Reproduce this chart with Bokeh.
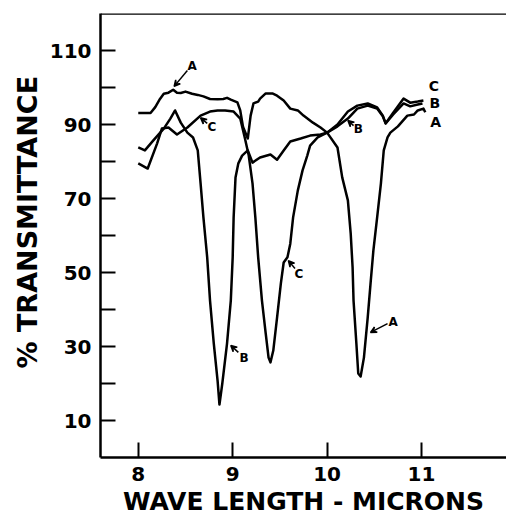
from bokeh.plotting import figure
from bokeh.models import Range1d, FixedTicker, Span, Arrow, VeeHead, ColumnDataSource, Title
from bokeh.core.properties import value
from bokeh.embed import file_html
from bokeh.resources import INLINE

# ---- data ----
A_x = [8.00, 8.13, 8.18, 8.23, 8.27, 8.32, 8.37, 8.41, 8.45, 8.50, 8.57, 8.63, 8.69, 8.76, 8.84,
       8.90, 8.94, 8.98, 9.05, 9.08, 9.11, 9.16, 9.19, 9.22, 9.27, 9.29, 9.35, 9.42, 9.47, 9.54,
       9.61, 9.69, 9.75, 9.85, 9.93, 10.00, 10.11, 10.16, 10.22, 10.25, 10.27, 10.28, 10.31, 10.33, 10.355,
       10.39, 10.43, 10.46, 10.49, 10.53, 10.57, 10.60, 10.64, 10.67, 10.75, 10.85, 10.92, 10.96, 11.02, 11.04]
A_y = [93.1, 93.1, 94.7, 96.9, 98.3, 98.6, 99.4, 98.6, 98.5, 98.9, 98.3, 98.0, 97.6, 96.9, 96.8,
       96.9, 97.2, 96.7, 96.0, 93.8, 89.3, 86.2, 92.4, 95.7, 96.2, 97.0, 98.4, 98.4, 97.8, 96.5,
       94.3, 93.8, 92.4, 90.5, 89.2, 87.8, 83.8, 75.7, 69.5, 60.5, 51.4, 42.4, 30.8, 22.7, 21.9,
       27.0, 37.8, 47.0, 55.9, 64.9, 74.1, 83.0, 86.5, 87.8, 89.5, 92.4, 92.7, 93.8, 94.3, 93.3]

B_x = [8.00, 8.07, 8.16, 8.27, 8.34, 8.39, 8.45, 8.52, 8.58, 8.63, 8.66, 8.69, 8.73, 8.76, 8.80,
       8.84, 8.86, 8.89, 8.94, 8.98, 9.00, 9.01, 9.03, 9.06, 9.10, 9.16, 9.21, 9.29, 9.40, 9.47,
       9.54, 9.61, 9.72, 9.82, 9.93, 10.00, 10.11, 10.22, 10.32, 10.43, 10.53, 10.59, 10.62, 10.70, 10.81,
       10.88, 10.96, 11.01]
B_y = [83.8, 83.0, 85.7, 88.9, 91.6, 93.8, 90.5, 87.8, 86.5, 83.0, 74.1, 64.9, 54.1, 42.4, 30.8,
       20.8, 14.3, 20.0, 30.8, 42.4, 54.1, 64.9, 75.7, 79.5, 81.6, 83.0, 79.7, 81.1, 81.9, 80.5,
       83.0, 85.4, 86.2, 87.0, 87.3, 87.8, 89.5, 91.6, 94.3, 95.1, 94.3, 92.2, 90.3, 92.7, 95.7,
       94.9, 95.4, 95.7]

C_x = [8.00, 8.10, 8.20, 8.25, 8.32, 8.41, 8.52, 8.66, 8.76, 8.84, 8.92, 9.01, 9.08, 9.13, 9.17,
       9.21, 9.24, 9.27, 9.31, 9.35, 9.38, 9.40, 9.43, 9.47, 9.51, 9.54, 9.58, 9.61, 9.64, 9.69,
       9.74, 9.79, 9.82, 9.90, 10.00, 10.11, 10.22, 10.32, 10.43, 10.53, 10.59, 10.62, 10.70, 10.81, 10.88,
       10.96, 11.02]
C_y = [79.5, 78.1, 84.9, 88.9, 89.2, 87.3, 89.2, 92.4, 93.5, 93.8, 93.8, 93.5, 91.6, 86.2, 81.6,
       74.1, 64.9, 54.1, 42.4, 33.5, 27.0, 25.7, 28.9, 37.8, 47.0, 52.7, 54.1, 57.8, 64.9, 72.2,
       77.6, 81.6, 84.3, 86.5, 87.8, 90.0, 93.5, 95.1, 95.7, 94.6, 92.4, 90.3, 93.2, 97.0, 95.9,
       96.2, 96.5]

x_ticks = [8, 9, 10, 11]
y_ticks = [10, 30, 50, 70, 90, 110]
y_minor = [20, 40, 60, 80, 100]

x_title = "WAVE LENGTH - MICRONS"
y_title = "% TRANSMITTANCE"

ann_text = ["A", "C", "B", "C", "A", "B"]
ann_x = [8.57, 8.78, 9.12, 9.70, 10.70, 10.33]
ann_y = [105.9, 89.2, 26.8, 49.5, 36.5, 88.9]
arr_x0 = [8.52, 8.73, 9.06, 9.66, 10.64, 10.28]
arr_y0 = [104.6, 90.3, 28.4, 51.1, 36.2, 89.7]
arr_x1 = [8.38, 8.66, 8.98, 9.59, 10.46, 10.22]
arr_y1 = [100.3, 91.8, 30.3, 53.2, 33.8, 91.1]

end_text = ["C", "B", "A"]
end_x = [11.13, 11.14, 11.15]
end_y = [100.3, 95.7, 90.8]

FONT = "DejaVu Sans"

p = figure(width=506, height=522, output_backend="svg", toolbar_location=None,
           x_range=Range1d(7.6, 11.9), y_range=Range1d(0, 120),
           min_border_left=100, min_border_right=0, min_border_top=13, min_border_bottom=65)
p.grid.grid_line_color = None
p.outline_line_color = None
p.background_fill_color = "white"
p.border_fill_color = "white"

p.xaxis.ticker = FixedTicker(ticks=x_ticks)
p.yaxis.ticker = FixedTicker(ticks=y_ticks, minor_ticks=y_minor)
p.xaxis.axis_label = x_title

for ax in (p.xaxis[0], p.yaxis[0]):
    ax.axis_line_width = 2.5
    ax.axis_line_color = "black"
    ax.major_tick_line_width = 2
    ax.major_tick_line_color = "black"
    ax.major_tick_in = 15
    ax.major_tick_out = 0
    ax.minor_tick_in = 15
    ax.minor_tick_out = 0
    ax.minor_tick_line_width = 2
    ax.minor_tick_line_color = "black"
    ax.major_label_text_font = FONT
    ax.major_label_text_font_style = "bold"
    ax.major_label_text_font_size = "20px"
    ax.major_label_text_color = "black"
    ax.major_label_standoff = 9
    ax.axis_label_text_font = FONT
    ax.axis_label_text_font_style = "bold"
    ax.axis_label_text_color = "black"

p.xaxis[0].major_label_standoff = 9
p.xaxis[0].axis_label_text_font_size = "25px"
p.xaxis[0].axis_label_standoff = 3

# vertical axis title as a left-side title so that it can sit a little above centre
p.add_layout(Title(text=y_title, align="left", offset=89, standoff=8,
                   text_font=FONT, text_font_style="bold", text_font_size="27px",
                   text_color="black"), "left")

p.add_layout(Span(location=120, dimension="width", line_color="black", line_width=2.5))

for xs, ys in ((A_x, A_y), (B_x, B_y), (C_x, C_y)):
    p.line(xs, ys, line_color="black", line_width=2.5, line_join="round")

arr_src = ColumnDataSource(dict(x0=arr_x0, y0=arr_y0, x1=arr_x1, y1=arr_y1))
p.add_layout(Arrow(end=VeeHead(size=6, line_width=1.5, line_color="black"),
                   x_start="x0", y_start="y0", x_end="x1", y_end="y1",
                   source=arr_src, line_width=1.5, line_color="black"))

p.text(x=ann_x, y=ann_y, text=ann_text, text_font=value(FONT), text_font_style="bold",
       text_font_size="12px", text_align="center", text_baseline="middle", text_color="black")
p.text(x=end_x, y=end_y, text=end_text, text_font=value(FONT), text_font_style="bold",
       text_font_size="14px", text_align="center", text_baseline="middle", text_color="black")

open("out.html", "w").write(file_html(p, INLINE))
